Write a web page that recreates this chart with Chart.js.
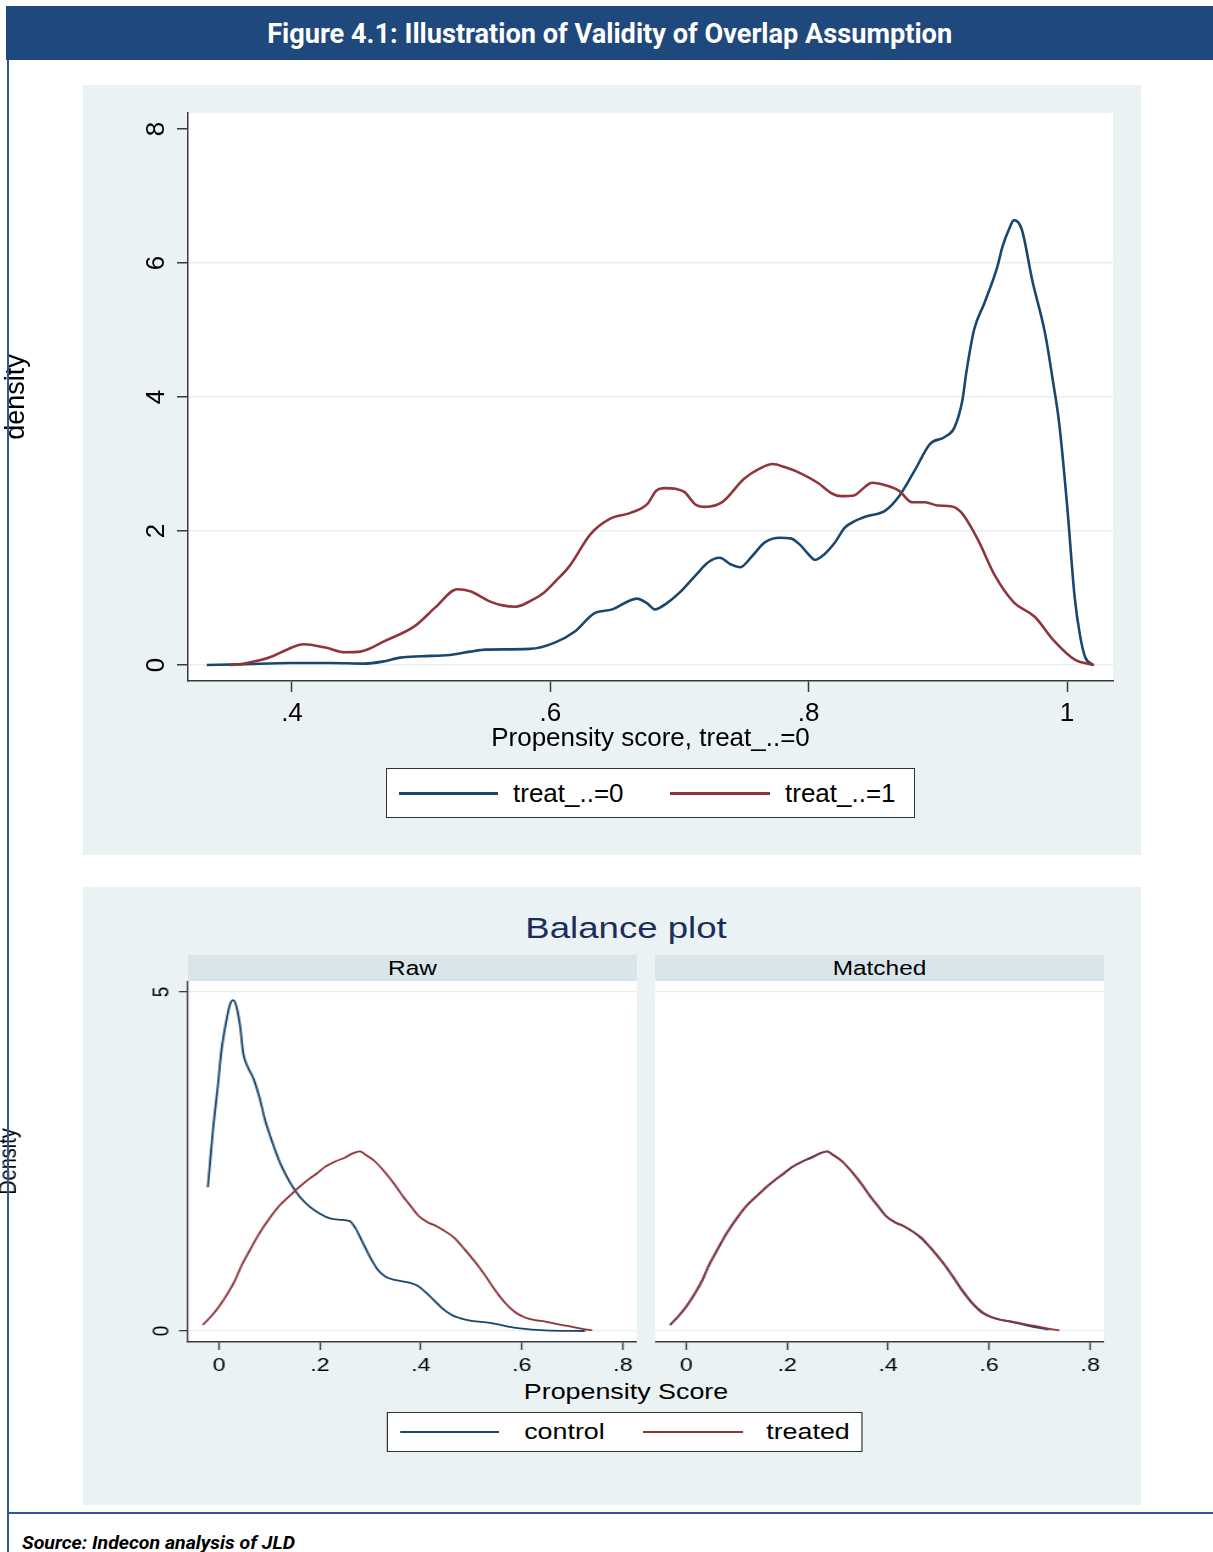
<!DOCTYPE html>
<html>
<head>
<meta charset="utf-8">
<title>Figure 4.1</title>
<script src="https://cdn.jsdelivr.net/npm/chart.js@4.4.1/dist/chart.umd.min.js"></script>
<style>
  html, body { margin: 0; padding: 0; background: #fff; }
  body { position: relative; width: 1213px; height: 1552px; overflow: hidden; font-family: "Liberation Sans", Arial, sans-serif; }
  .abs { position: absolute; }
  #bar { left: 6px; top: 6px; width: 1207px; height: 54px; background: #1F497D; }
  #barText { position: absolute; left: 0; top: 0; width: 100%; text-align: center; color: #fff;
             font: bold 27px "Liberation Sans Narrow", Roboto, sans-serif; line-height: 56px; white-space: nowrap; }
  #barText span { display: inline-block; }
  #vline { left: 7px; top: 60px; width: 2px; height: 1492px; background: #2E55A0; z-index: 5; }
  #hline { left: 7px; top: 1512px; width: 1206px; height: 2px; background: #2E55A0; z-index: 5; }
  #source { left: 22px; top: 1531px; font: italic bold 19px "Liberation Sans Narrow", Roboto, sans-serif;
            white-space: nowrap; transform-origin: left center; }
  .panel { background: #EAF2F3; }
  .legend { background: #fff; border: 1px solid #333; box-sizing: border-box; }
  .key { position: absolute; }
  .lbl { position: absolute; white-space: nowrap; color: #000; }
  #bottom { left: 83px; top: 887px; height: 618px; transform-origin: 0 0; }
  .strip { position: absolute; background: #D9E5EB; text-align: center; font-size: 20px; line-height: 27px; color: #000; }
  canvas { position: absolute; }
</style>
</head>
<body>
<div id="bar" class="abs"><div id="barText"><span>Figure 4.1: Illustration of Validity of Overlap Assumption</span></div></div>
<div id="vline" class="abs"></div>
<div id="hline" class="abs"></div>
<div id="source" class="abs">Source: Indecon analysis of JLD</div>

<div class="abs panel" style="left:83px;top:85px;width:1058px;height:770px;"></div>
<canvas id="topChart" width="1141" height="770" style="left:0;top:85px;"></canvas>
<div class="abs legend" style="left:386px;top:768px;width:529px;height:50px;">
  <div class="key" style="left:12px;top:23px;width:99px;height:3px;background:#1A476F;"></div>
  <div class="lbl" style="left:126px;top:0;line-height:48px;font-size:26px;">treat_..=0</div>
  <div class="key" style="left:283px;top:23px;width:100px;height:3px;background:#90353B;"></div>
  <div class="lbl" style="left:398px;top:0;line-height:48px;font-size:26px;">treat_..=1</div>
</div>

<div id="bottom" class="abs panel"></div>

<script>
// top graph: kernel densities of the propensity score
const treat0X = [0.334, 0.36, 0.40, 0.43, 0.456, 0.47, 0.484, 0.50, 0.522, 0.538, 0.55, 0.584, 0.603, 0.619, 0.634,
  0.648, 0.658, 0.667, 0.675, 0.681, 0.69, 0.70, 0.713, 0.722, 0.731, 0.74, 0.747, 0.756, 0.766, 0.778, 0.786, 0.793,
  0.80, 0.805, 0.812, 0.82, 0.828, 0.836, 0.845, 0.859, 0.87, 0.882, 0.894, 0.905, 0.913, 0.919, 0.922, 0.928, 0.936,
  0.946, 0.95, 0.955, 0.959, 0.965, 0.973, 0.983, 0.989, 0.994, 1.0, 1.006, 1.01, 1.014, 1.02];
const treat0Y = [0, 0.01, 0.03, 0.03, 0.02, 0.05, 0.11, 0.13, 0.15, 0.2, 0.23, 0.24, 0.33, 0.5, 0.77,
  0.83, 0.93, 0.99, 0.92, 0.83, 0.92, 1.08, 1.35, 1.53, 1.6, 1.5, 1.46, 1.62, 1.83, 1.9, 1.89, 1.8,
  1.65, 1.57, 1.65, 1.82, 2.05, 2.15, 2.22, 2.3, 2.52, 2.9, 3.3, 3.4, 3.55, 3.95, 4.36, 5.0, 5.4,
  5.94, 6.24, 6.5, 6.64, 6.5, 5.75, 4.95, 4.25, 3.6, 2.4, 1.0, 0.45, 0.12, 0];
const treat1X = [0.352, 0.362, 0.375, 0.385, 0.395, 0.409, 0.426, 0.441, 0.453, 0.472, 0.495, 0.511, 0.528, 0.538,
  0.553, 0.563, 0.573, 0.585, 0.595, 0.604, 0.615, 0.631, 0.646, 0.662, 0.675, 0.682, 0.689, 0.697, 0.704, 0.712,
  0.72, 0.733, 0.75, 0.762, 0.772, 0.782, 0.795, 0.807, 0.818, 0.825, 0.835, 0.843, 0.849, 0.86, 0.87, 0.88, 0.89,
  0.90, 0.91, 0.918, 0.931, 0.944, 0.959, 0.975, 0.99, 1.006, 1.021];
const treat1Y = [0, 0.02, 0.07, 0.13, 0.22, 0.31, 0.26, 0.19, 0.2, 0.36, 0.58, 0.86, 1.13, 1.1,
  0.95, 0.89, 0.87, 0.96, 1.08, 1.25, 1.48, 1.95, 2.18, 2.27, 2.4, 2.6, 2.64, 2.63, 2.58, 2.4,
  2.36, 2.43, 2.78, 2.93, 3.0, 2.95, 2.85, 2.72, 2.56, 2.52, 2.53, 2.65, 2.72, 2.68, 2.6, 2.43, 2.43,
  2.38, 2.37, 2.28, 1.87, 1.34, 0.93, 0.72, 0.36, 0.08, 0];
const topXTicks = [0.4, 0.6, 0.8, 1.0];
const topXLabels = ['.4', '.6', '.8', '1'];
const topYTicks = [0, 2, 4, 6, 8];
const topYLabels = ['0', '2', '4', '6', '8'];

// bottom graph: balance plot, raw and matched
const rawCtrlX = [-0.022, -0.012, -0.001, 0.005, 0.015, 0.022, 0.028, 0.034, 0.042, 0.048, 0.058, 0.068, 0.08, 0.091,
  0.105, 0.121, 0.14, 0.16, 0.18, 0.20, 0.22, 0.24, 0.259, 0.27, 0.285, 0.30, 0.315, 0.33, 0.35, 0.378, 0.395, 0.408,
  0.425, 0.44, 0.46, 0.477, 0.50, 0.537, 0.57, 0.596, 0.646, 0.725];
const rawCtrlY = [2.12, 2.95, 3.7, 4.14, 4.59, 4.82, 4.88, 4.8, 4.49, 4.1, 3.88, 3.73, 3.45, 3.12,
  2.8, 2.48, 2.2, 1.98, 1.83, 1.73, 1.66, 1.64, 1.62, 1.52, 1.3, 1.08, 0.9, 0.8, 0.75, 0.71, 0.66, 0.58,
  0.46, 0.35, 0.24, 0.19, 0.15, 0.12, 0.07, 0.04, 0.01, 0];
const treatedX = [-0.032, -0.015, 0.002, 0.017, 0.032, 0.045, 0.061, 0.08, 0.101, 0.12, 0.141, 0.16, 0.18, 0.195,
  0.21, 0.23, 0.25, 0.265, 0.279, 0.29, 0.309, 0.33, 0.349, 0.365, 0.378, 0.395, 0.414, 0.43, 0.448, 0.465, 0.487,
  0.507, 0.527, 0.547, 0.566, 0.586, 0.606, 0.626, 0.646, 0.67, 0.695, 0.72, 0.739];
const treatedY = [0.09, 0.22, 0.38, 0.55, 0.75, 0.97, 1.19, 1.44, 1.67, 1.85, 2.0, 2.13, 2.25, 2.33,
  2.42, 2.5, 2.56, 2.62, 2.65, 2.6, 2.5, 2.33, 2.15, 1.98, 1.86, 1.7, 1.6, 1.55, 1.47, 1.38, 1.2,
  1.02, 0.82, 0.6, 0.42, 0.28, 0.2, 0.16, 0.14, 0.1, 0.07, 0.03, 0.01];
const matchedCtrlX = [-0.032, -0.015, 0.002, 0.017, 0.032, 0.045, 0.061, 0.08, 0.101, 0.12, 0.141, 0.16, 0.18, 0.195,
  0.21, 0.23, 0.25, 0.265, 0.279, 0.29, 0.309, 0.33, 0.349, 0.365, 0.378, 0.395, 0.414, 0.43, 0.448, 0.465, 0.487,
  0.507, 0.527, 0.547, 0.566, 0.586, 0.606, 0.626, 0.646, 0.67, 0.695, 0.718];
const matchedCtrlY = [0.09, 0.22, 0.38, 0.55, 0.75, 0.97, 1.19, 1.44, 1.67, 1.85, 2.0, 2.13, 2.25, 2.34,
  2.42, 2.5, 2.57, 2.62, 2.65, 2.6, 2.5, 2.33, 2.15, 1.98, 1.86, 1.7, 1.6, 1.55, 1.47, 1.37, 1.2,
  1.02, 0.81, 0.59, 0.41, 0.27, 0.2, 0.16, 0.13, 0.09, 0.05, 0.02];
const balXTicks = [0, 0.2, 0.4, 0.6, 0.8];
const balXLabels = ['0', '.2', '.4', '.6', '.8'];
const balYTicks = [0, 5];
const balYLabels = ['0', '5'];

const navy = '#1A476F';
const maroon = '#90353B';
const gridCol = '#E7EFF2';
const axisCol = '#3a3a3a';
const FONT = '"Liberation Sans", Arial, sans-serif';

Chart.defaults.font.family = FONT;
Chart.defaults.color = '#000';

// white plot region like Stata's
const plotBg = {
  id: 'plotBg',
  beforeDraw(chart) {
    const a = chart.chartArea, ctx = chart.ctx;
    ctx.save();
    ctx.fillStyle = '#fff';
    ctx.fillRect(a.left, a.top, a.right - a.left, a.bottom - a.top);
    ctx.restore();
  }
};

function pts(xs, ys) {
  return xs.map((x, i) => ({ x: x, y: ys[i] }));
}

function series(label, xs, ys, color, width, order) {
  return {
    label: label, data: pts(xs, ys), borderColor: color, borderWidth: width,
    pointRadius: 0, fill: false, cubicInterpolationMode: 'monotone', order: order
  };
}

// no extra room for the end labels, the plot area is placed by hand
function noPad(s) {
  s.paddingTop = 0; s.paddingBottom = 0; s.paddingLeft = 0; s.paddingRight = 0;
}

// ---- top graph ----
new Chart(document.getElementById('topChart'), {
  type: 'line',
  data: {
    datasets: [
      series('treat_..=0', treat0X, treat0Y, navy, 2.6, 1),
      series('treat_..=1', treat1X, treat1Y, maroon, 2.6, 0)
    ]
  },
  options: {
    responsive: false, animation: false, devicePixelRatio: 1,
    layout: { padding: { left: 0, top: 28, right: 28, bottom: 100.4 } },
    plugins: { legend: { display: false }, tooltip: { enabled: false } },
    scales: {
      x: {
        type: 'linear', min: 0.3195, max: 1.0356,
        afterBuildTicks: s => { s.ticks = topXTicks.map(v => ({ value: v })); },
        afterFit: s => { s.height = 73.6; noPad(s); },
        ticks: { callback: (v, i) => topXLabels[i], font: { size: 26 }, padding: 6, maxRotation: 0, autoSkip: false },
        grid: { drawOnChartArea: false, tickLength: 11, tickColor: axisCol, tickWidth: 1.5 },
        border: { color: axisCol, width: 1.5 },
        title: { display: true, text: 'Propensity score, treat_..=0', font: { size: 26 }, padding: 0 }
      },
      y: {
        min: -0.2388, max: 8.2388,
        afterBuildTicks: s => { s.ticks = topYTicks.map(v => ({ value: v })); },
        afterFit: s => { s.width = 188; noPad(s); },
        ticks: { callback: (v, i) => topYLabels[i], minRotation: 90, maxRotation: 90, crossAlign: 'center',
                 padding: 13, font: { size: 26 }, autoSkip: false },
        grid: { color: c => (c.tick && c.tick.value === 8) ? 'rgba(0,0,0,0)' : gridCol, lineWidth: 1.5,
                tickLength: 11, tickColor: axisCol, tickWidth: 1.5 },
        border: { color: axisCol, width: 1.5 },
        title: { display: true, text: 'density', font: { size: 27 }, padding: 0 }
      }
    }
  },
  plugins: [plotBg]
});

// ---- bottom graph (the Stata picture is stretched sideways) ----
const S = 1.22;
const OX = 83, OY = 887;
const ix = x => (x - OX) / S;
const bottom = document.getElementById('bottom');
bottom.style.width = (1058 / S) + 'px';
bottom.style.transform = 'scaleX(' + S + ')';

function add(tag, cls, css, text) {
  const el = document.createElement(tag);
  if (cls) el.className = cls;
  el.style.cssText = css;
  if (text) el.textContent = text;
  bottom.appendChild(el);
  return el;
}

add('div', 'lbl', `left:${ix(626) - 200}px;top:21px;width:400px;text-align:center;line-height:40px;font-size:30px;color:#1C2D5B;`, 'Balance plot');
add('div', 'strip', `left:${ix(188)}px;top:68px;width:${449 / S}px;height:27px;`, 'Raw');
add('div', 'strip', `left:${ix(655)}px;top:68px;width:${449 / S}px;height:27px;`, 'Matched');
add('div', 'lbl', `left:${ix(626) - 200}px;top:490px;width:400px;text-align:center;line-height:30px;font-size:22px;`, 'Propensity Score');

const leg = add('div', 'legend', `position:absolute;left:${ix(387)}px;top:525px;width:${476 / S}px;height:40px;`);
leg.innerHTML =
  `<div class="key" style="left:${12 / S}px;top:18px;width:${99 / S}px;height:2px;background:${navy};"></div>` +
  `<div class="lbl" style="left:${136 / S}px;top:0;line-height:38px;font-size:22px;">control</div>` +
  `<div class="key" style="left:${255 / S}px;top:18px;width:${100 / S}px;height:2px;background:${maroon};"></div>` +
  `<div class="lbl" style="left:${378 / S}px;top:0;line-height:38px;font-size:22px;">treated</div>`;

const rawCanvas = add('canvas', '', `left:${ix(-6)}px;top:94px;`);
rawCanvas.width = 527; rawCanvas.height = 400;
const matchedCanvas = add('canvas', '', `left:${ix(655)}px;top:94px;`);
matchedCanvas.width = 368; matchedCanvas.height = 400;

function balanceChart(canvas, ctrlX, ctrlY, withAxis) {
  return new Chart(canvas, {
    type: 'line',
    data: {
      datasets: [
        series('control', ctrlX, ctrlY, navy, 1.8, 1),
        series('treated', treatedX, treatedY, maroon, 1.8, 0)
      ]
    },
    options: {
      responsive: false, animation: false, devicePixelRatio: 1,
      layout: { padding: 0 },
      plugins: { legend: { display: false }, tooltip: { enabled: false } },
      scales: {
        x: {
          type: 'linear', min: -0.0614, max: 0.8277,
          afterBuildTicks: s => { s.ticks = balXTicks.map(v => ({ value: v })); },
          afterFit: s => { s.height = 39; noPad(s); },
          ticks: { callback: (v, i) => balXLabels[i], font: { size: 19 }, padding: 4, maxRotation: 0, autoSkip: false },
          grid: { drawOnChartArea: false, tickLength: 8, tickColor: axisCol, tickWidth: 1.3 },
          border: { color: axisCol, width: 1.5 }
        },
        y: {
          min: -0.1622, max: 5.1622,
          afterBuildTicks: s => { s.ticks = balYTicks.map(v => ({ value: v })); },
          afterFit: s => { s.width = withAxis ? (188 + 6) / S : 0; noPad(s); },
          ticks: { display: withAxis, callback: (v, i) => balYLabels[i], minRotation: 90, maxRotation: 90,
                   crossAlign: 'center', padding: 8.6, font: { size: 19 }, autoSkip: false },
          grid: { color: gridCol, lineWidth: 1.3, drawTicks: withAxis, tickLength: 9 / S, tickColor: axisCol, tickWidth: 1.3 },
          border: { display: withAxis, color: axisCol, width: 1.3 },
          title: { display: withAxis, text: 'Density', font: { size: 20 }, padding: 0 }
        }
      }
    },
    plugins: [plotBg]
  });
}

balanceChart(rawCanvas, rawCtrlX, rawCtrlY, true);
balanceChart(matchedCanvas, matchedCtrlX, matchedCtrlY, false);

// squeeze the Calibri-like texts to their widths in the figure
function fitWidth(el, target) {
  const w = el.getBoundingClientRect().width;
  if (w > 0) el.style.transform = 'scaleX(' + (target / w) + ')';
}
fitWidth(document.querySelector('#barText span'), 685);
fitWidth(document.getElementById('source'), 273);
</script>
</body>
</html>
